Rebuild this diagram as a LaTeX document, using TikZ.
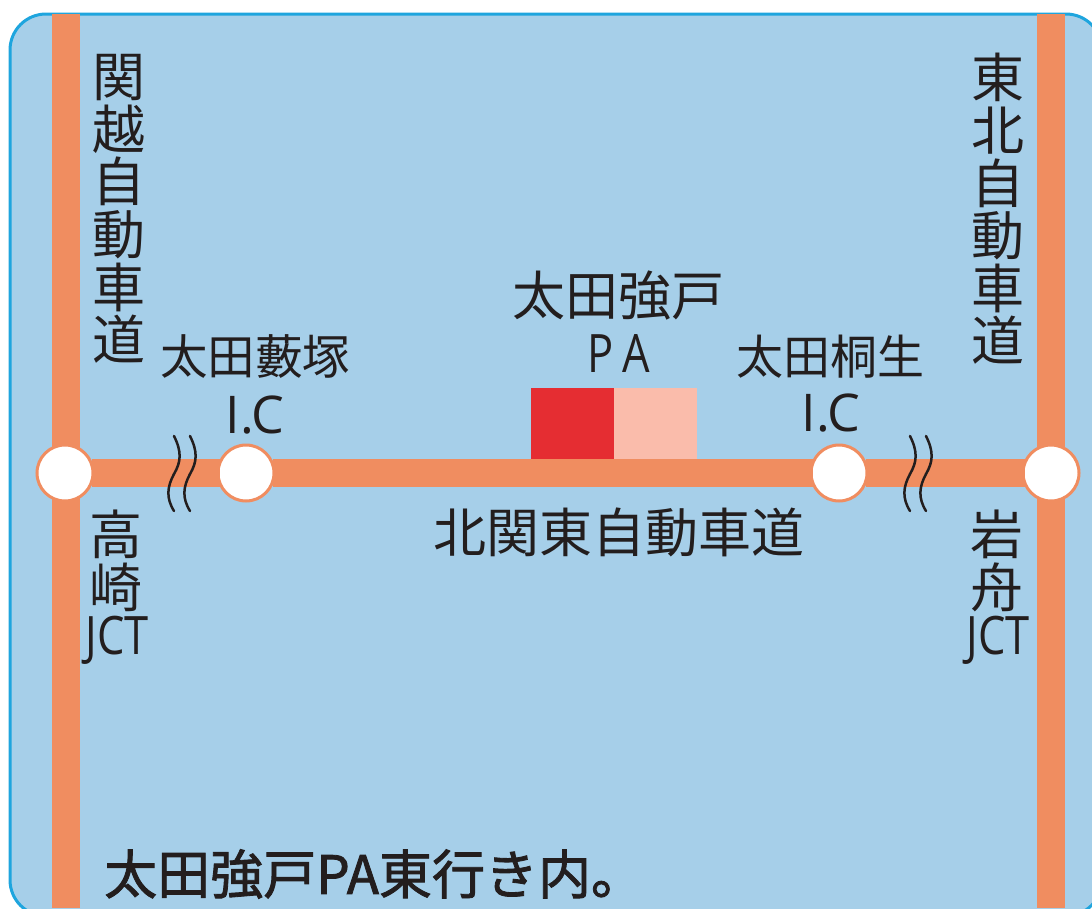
\documentclass[tikz,border=0pt]{standalone}
\usepackage{fontspec}
\newfontfamily\jpfont{Noto Sans CJK JP}
\newfontfamily\latinfont[FakeStretch=0.82]{Open Sans}
\newfontfamily\icfont{Open Sans}
\definecolor{panel_bg}{RGB}{166,207,233}
\definecolor{panel_line}{RGB}{30,165,222}
\definecolor{road_col}{RGB}{240,141,96}
\definecolor{pa_red}{RGB}{229,45,50}
\definecolor{pa_pink}{RGB}{250,188,171}
\definecolor{text_col}{RGB}{35,30,30}
\tikzset{
  road/.style={draw=road_col,line width=28pt},
  jct/.style={shape=circle,draw=road_col,fill=white,line width=3pt,minimum size=56pt,inner sep=0pt},
  lbl/.style={text=text_col,inner sep=0pt,align=center,font=\jpfont\fontsize{53}{52.6}\selectfont},
  latin/.style={text=text_col,inner sep=0pt,font=\latinfont\fontsize{53}{52}\selectfont},
  icname/.style={text=text_col,inner sep=0pt,font=\icfont\fontsize{52}{52}\selectfont},
  wave/.style={draw=text_col,line width=2.5pt,line cap=round}
}
\begin{document}
\begin{tikzpicture}[x=1pt,y=-1pt]
\useasboundingbox (0,0) rectangle (1092,908);
\clip (0,0) rectangle (1092,908);
\draw[draw=panel_line,fill=panel_bg,line width=3pt,rounded corners=36pt] (10,14) rectangle (1102,916);
% end points of the roads
\coordinate (leftTop) at (66,14);
\coordinate (leftBottom) at (66,908);
\coordinate (rightTop) at (1051,14);
\coordinate (rightBottom) at (1051,908);
\node[shape=rectangle,fill=pa_red,minimum width=83pt,minimum height=72pt,inner sep=0pt] (paRed) at (572.5,424) {};
\node[shape=rectangle,fill=pa_pink,minimum width=83pt,minimum height=72pt,inner sep=0pt] (paPink) at (655.5,424) {};
\draw[road] (leftTop) to (leftBottom);
\draw[road] (rightTop) to (rightBottom);
\node[jct] (takasaki) at (65,473) {};
\node[jct] (yabuzuka) at (246,473) {};
\node[jct] (kiryu) at (839,473) {};
\node[jct] (iwafune) at (1051,473) {};
\draw[road,shorten >=-3pt,shorten <=-3pt] (takasaki) to (yabuzuka);
\draw[road,shorten >=-3pt,shorten <=-3pt] (yabuzuka) to (kiryu);
\draw[road,shorten >=-3pt,shorten <=-3pt] (kiryu) to (iwafune);
% break marks
\draw[wave] (174,436) .. controls (182,452) and (181,462) .. (174,474) .. controls (167,487) and (166,498) .. (174,511);
\draw[wave] (190,436) .. controls (198,452) and (197,462) .. (190,474) .. controls (183,487) and (182,498) .. (190,511);
\draw[wave] (910,436) .. controls (918,452) and (917,462) .. (910,474) .. controls (903,487) and (902,498) .. (910,511);
\draw[wave] (926,436) .. controls (934,452) and (933,462) .. (926,474) .. controls (919,487) and (918,498) .. (926,511);
% labels
\node[lbl] (kanetsu) at (119,209) {関\\越\\自\\動\\車\\道};
\node[lbl] (tohoku) at (998,209) {東\\北\\自\\動\\車\\道};
\node[lbl,font=\jpfont\fontsize{47.5}{52}\selectfont] (yabuzukaName) at (255,357) {太田藪塚};
\node[icname] (yabuzukaIC) at (255,415) {I.C};
\node[lbl] (paName) at (618,296) {太田強戸};
\node[latin] (paPA) at (619,353) {P\,A};
\node[lbl,font=\jpfont\fontsize{47}{52}\selectfont] (kiryuName) at (830,357) {太田桐生};
\node[icname] (kiryuIC) at (831,413) {I.C};
\node[lbl] (kitakanto) at (619,532) {北関東自動車道};
\node[lbl] (takasakiName) at (116,561) {高\\崎};
\node[latin] (takasakiJCT) at (117,640) {JCT};
\node[lbl] (iwafuneName) at (997,561) {岩\\舟};
\node[latin] (iwafuneJCT) at (998,640) {JCT};
\node[text=text_col,inner sep=0pt,anchor=west,font=\jpfont\fontsize{53}{52}\selectfont\addfontfeature{FakeBold=1.6}] (note) at (104,874) {太田強戸PA東行き内。};
\end{tikzpicture}
\end{document}
